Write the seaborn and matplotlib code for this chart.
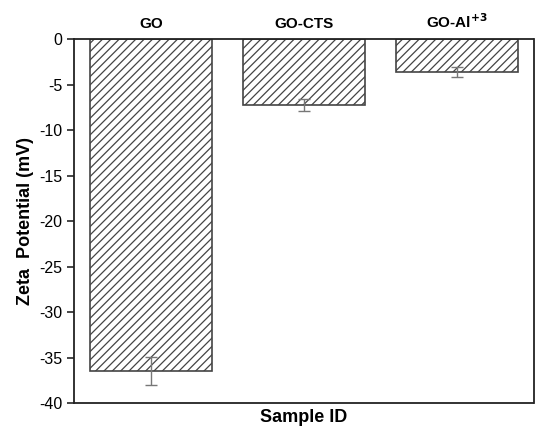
import numpy as np
import pandas as pd
import seaborn as sns
import matplotlib.pyplot as plt

samples = ['GO', 'GO-CTS', 'GO-Al$^{\\mathbf{+3}}$']
zeta = [-36.5, -7.25, -3.6]
zeta_err = [1.55, 0.65, 0.55]

df = pd.DataFrame({'sample': samples, 'zeta': zeta})

sns.set_style('ticks')
plt.rcParams['font.family'] = ['Liberation Sans', 'DejaVu Sans']
plt.rcParams['axes.unicode_minus'] = False
plt.rcParams['hatch.color'] = '#8a8a8a'
plt.rcParams['hatch.linewidth'] = 0.9

fig, ax = plt.subplots(figsize=(5.5, 4.38), dpi=100)
sns.barplot(data=df, x='sample', y='zeta', ax=ax, width=0.8, errorbar=None,
            color='white', edgecolor='#444444', linewidth=1.2)
for p in ax.patches:
    p.set_hatch('////')
    p.set_edgecolor('#444444')

# error bars drawn separately (values are mean +- sd)
ax.errorbar(range(len(samples)), zeta, yerr=zeta_err, fmt='none',
            ecolor='#777777', elinewidth=1.0, capsize=4, capthick=1.0)

ax.set_ylim(-40, 0)
ax.set_xlim(-0.5, 2.5)
ax.set_yticks(np.arange(-40, 1, 5))
ax.tick_params(axis='y', labelsize=11.5, direction='out', length=5, width=1.2,
               labelcolor='black')
ax.xaxis.tick_top()
ax.tick_params(axis='x', length=0, labelsize=11, pad=6, labelcolor='black')
for lbl in ax.get_xticklabels():
    lbl.set_fontweight('bold')
ax.set_xlabel('Sample ID', fontsize=13, fontweight='bold', color='black')
ax.xaxis.set_label_position('bottom')
ax.set_ylabel('Zeta  Potential (mV)', fontsize=13, fontweight='bold', color='black')
for s in ax.spines.values():
    s.set_linewidth(1.3)
    s.set_color('#222222')

fig.subplots_adjust(left=0.135, right=0.97, top=0.91, bottom=0.08)
fig.savefig('out.png', dpi=100)
